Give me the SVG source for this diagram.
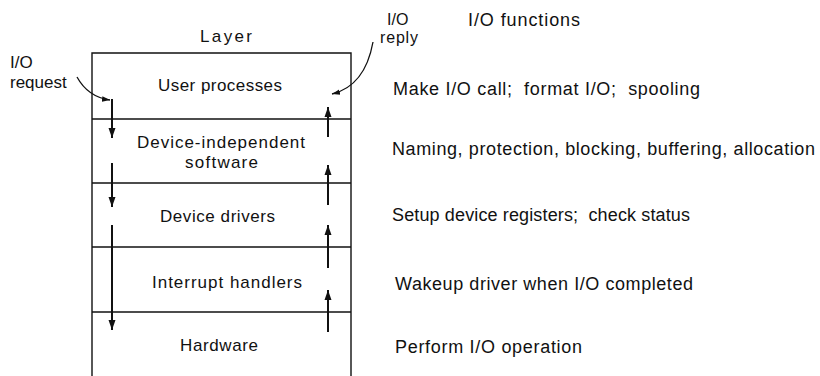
<svg xmlns="http://www.w3.org/2000/svg" width="820" height="376" viewBox="0 0 820 376">
<defs>
<style>
text{font-family:"Liberation Sans",Arial,sans-serif;font-size:17px;fill:#111}
.r{font-size:18px}
.s{font-size:16px}
.box{stroke:#111;stroke-width:1.4;fill:none}
.arr{stroke:#111;stroke-width:2;fill:none}
.crv{stroke:#111;stroke-width:1.3;fill:none}
</style>
<marker id="ah" viewBox="0 0 10 10" refX="10" refY="5" markerWidth="10" markerHeight="10" markerUnits="userSpaceOnUse" orient="auto">
<path d="M0,1.5 L10,5 L0,8.5 Z" fill="#111"/>
</marker>
<marker id="ahs" viewBox="0 0 10 10" refX="10" refY="5" markerWidth="8" markerHeight="8" markerUnits="userSpaceOnUse" orient="auto">
<path d="M0,1.5 L10,5 L0,8.5 Z" fill="#111"/>
</marker>
</defs>
<rect width="820" height="376" fill="#fff"/>
<g id="frame">
<path class="box" d="M92,376 V53 H351 V376"/>
</g>
<text x="200" y="42" textLength="52">Layer</text>
<g id="user">
<line class="box" x1="92" y1="119" x2="351" y2="119"/>
<text x="158" y="91" textLength="124">User processes</text>
</g>
<g id="devind">
<line class="box" x1="92" y1="183" x2="351" y2="183"/>
<text x="137" y="148" textLength="168">Device-independent</text>
<text x="185" y="168" textLength="73">software</text>
</g>
<g id="drivers">
<line class="box" x1="92" y1="247" x2="351" y2="247"/>
<text x="160" y="222" textLength="115">Device drivers</text>
</g>
<g id="interrupt">
<line class="box" x1="92" y1="312" x2="351" y2="312"/>
<text x="152" y="288" textLength="150">Interrupt handlers</text>
</g>
<g id="hardware">
<text x="180" y="351" textLength="78">Hardware</text>
</g>
<g id="labels">
<text x="10" y="68">I/O</text>
<text x="10" y="88">request</text>
<text class="s" x="387" y="25">I/O</text>
<text class="s" x="380" y="43" textLength="38">reply</text>
<text class="r" x="468" y="26" textLength="112">I/O functions</text>
<text class="r" x="393" y="95" textLength="307" xml:space="preserve">Make I/O call;  format I/O;  spooling</text>
<text class="r" x="392" y="155" textLength="423">Naming, protection, blocking, buffering, allocation</text>
<text class="r" x="392" y="221" textLength="298" xml:space="preserve">Setup device registers;  check status</text>
<text class="r" x="395" y="290" textLength="298">Wakeup driver when I/O completed</text>
<text class="r" x="395" y="353" textLength="187">Perform I/O operation</text>
</g>
<g id="connectors">
<path class="crv" d="M77,77 Q88,97 110,100" marker-end="url(#ahs)"/>
<path class="crv" d="M373,42 Q365,86 332,94" marker-end="url(#ahs)"/>
<line class="arr" x1="112" y1="99" x2="112" y2="138" marker-end="url(#ah)"/>
<line class="arr" x1="112" y1="163" x2="112" y2="207" marker-end="url(#ah)"/>
<line class="arr" x1="112" y1="225" x2="112" y2="330" marker-end="url(#ah)"/>
<line class="arr" x1="328" y1="137" x2="328" y2="107" marker-end="url(#ah)"/>
<line class="arr" x1="328" y1="205" x2="328" y2="165" marker-end="url(#ah)"/>
<line class="arr" x1="328" y1="268" x2="328" y2="225" marker-end="url(#ah)"/>
<line class="arr" x1="328" y1="332" x2="328" y2="290" marker-end="url(#ah)"/>
</g>
</svg>
